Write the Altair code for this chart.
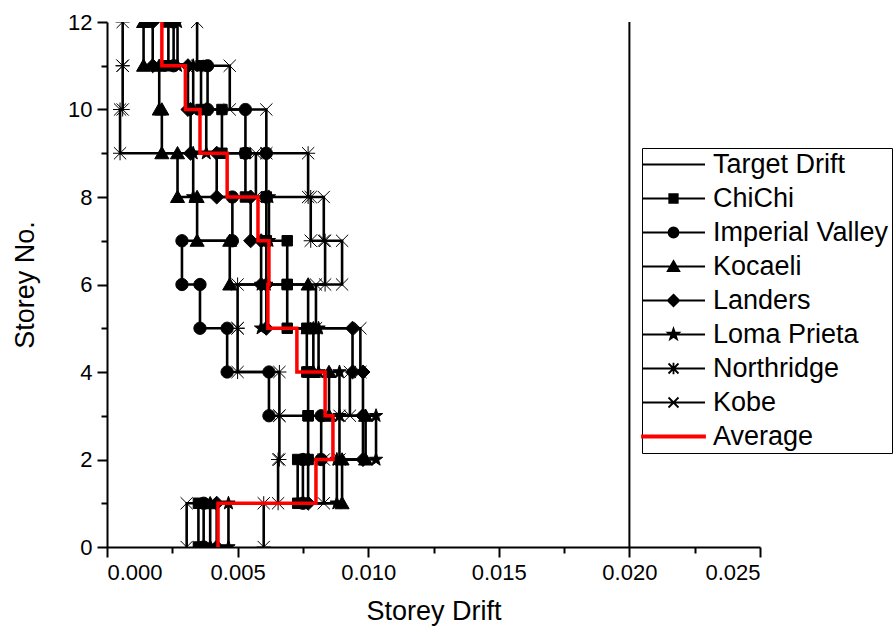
import altair as alt
import pandas as pd

# ---------------- data ----------------
storeys = list(range(1, 13))
series_names = ["ChiChi", "Imperial Valley", "Kocaeli", "Landers", "Loma Prieta", "Northridge", "Kobe"]

chichi = [0.0035, 0.0073, 0.0077, 0.0077, 0.00765, 0.0069, 0.0069, 0.0061, 0.0053, 0.0044, 0.0036, 0.00235]
imperial_valley = [0.0037, 0.0075, 0.0082, 0.0062, 0.0046, 0.00356, 0.00287, 0.0048, 0.0061, 0.0053, 0.00385, 0.00255]
kocaeli = [0.00395, 0.0090, 0.0099, 0.0085, 0.0079, 0.0077, 0.0047, 0.00345, 0.0027, 0.0021, 0.0020, 0.0014]
landers = [0.0042, 0.0077, 0.0098, 0.0098, 0.0094, 0.0061, 0.0059, 0.0055, 0.0042, 0.0032, 0.0031, 0.00175]
loma_prieta = [0.00465, 0.0088, 0.0103, 0.0089, 0.0081, 0.0059, 0.0061, 0.0062, 0.0033, 0.0038, 0.0033, 0.0027]
northridge = [0.0060, 0.00655, 0.0066, 0.0066, 0.0050, 0.0050, 0.00835, 0.0078, 0.0077, 0.0005, 0.0006, 0.0006]
kobe = [0.00305, 0.0083, 0.0089, 0.0093, 0.0097, 0.0080, 0.0090, 0.0083, 0.0057, 0.0061, 0.0047, 0.00345]
average = [0.00425, 0.0080, 0.00865, 0.00835, 0.00727, 0.00616, 0.0062, 0.00578, 0.0046, 0.00356, 0.0030, 0.0021]
target_drift = 0.02

x_major = [0.0, 0.005, 0.010, 0.015, 0.020, 0.025]
x_minor = [0.0025, 0.0075, 0.0125, 0.0175, 0.0225]
y_major = [0, 2, 4, 6, 8, 10, 12]
y_minor = [1, 3, 5, 7, 9, 11]

legend_names = ["Target Drift"] + series_names + ["Average"]
legend_colors = ["black"] * 8 + ["red"]
legend_keys = [f"L{i}" for i in range(len(legend_names))]

# ---------------- tables ----------------
def step_rows(name, vals):
    rows = []
    for i, (s, d) in enumerate(zip(storeys, vals)):
        rows.append({"series": name, "drift": d, "storey": s - 1, "order": 2 * i})
        rows.append({"series": name, "drift": d, "storey": s, "order": 2 * i + 1})
    return rows

all_vals = [chichi, imperial_valley, kocaeli, landers, loma_prieta, northridge, kobe]
rec_rows = []
for n, v in zip(series_names, all_vals):
    rec_rows += step_rows(n, v)
df_rec = pd.DataFrame(rec_rows)
df_avg = pd.DataFrame(step_rows("Average", average))
df_target = pd.DataFrame({"series": ["Target Drift"] * 2, "drift": [target_drift] * 2,
                          "storey": [0, 12], "order": [0, 1]})
df_legend = pd.DataFrame({"series": legend_keys})

# ---------------- marker shapes ----------------
SQUARE = "M-0.85,-0.85L0.85,-0.85L0.85,0.85L-0.85,0.85Z"
CIRCLE = "M1,0A1,1,0,1,1,-1,0A1,1,0,1,1,1,0Z"
TRIANGLE = "M0,-1.1L1.15,0.9L-1.15,0.9Z"
DIAMOND = "M0,-1.15L1.15,0L0,1.15L-1.15,0Z"
STAR = ("M0,-1.15L0.27,-0.37L1.09,-0.36L0.44,0.14L0.68,0.93L0,0.46L-0.68,0.93"
        "L-0.44,0.14L-1.09,-0.36L-0.27,-0.37Z")
ASTER = "M0,-1.15L0,1.15M-1,-1L1,1M-1,1L1,-1M-1.15,0L1.15,0"
XMARK = "M-1,-1L1,1M-1,1L1,-1"
marker_paths = [SQUARE, CIRCLE, TRIANGLE, DIAMOND, STAR, ASTER, XMARK]

LINE = "M-6.3,0L6.3,0"
THICK = "M-6.3,-0.2L6.3,-0.2L6.3,0.2L-6.3,0.2Z"
legend_paths = [LINE] + [LINE + p for p in marker_paths] + [THICK]

# one shared shape scale: plot markers + legend glyphs
shape_scale = alt.Scale(domain=series_names + legend_keys, range=marker_paths + legend_paths)
color_scale = alt.Scale(domain=series_names + legend_keys, range=["black"] * 7 + legend_colors)

label_expr = " : ".join(f"datum.label === '{k}' ? '{n}'" for k, n in zip(legend_keys, legend_names)) + " : datum.label"

# ---------------- scales & axes ----------------
x_scale = alt.Scale(domain=[0, 0.025], nice=False, zero=False)
y_scale = alt.Scale(domain=[0, 12], nice=False, zero=False)

x_axis = alt.Axis(values=x_major, format=".3f", orient="bottom", tickSize=10,
                  labelPadding=5, titleY=64, titleBaseline="middle")
y_axis = alt.Axis(values=y_major, format="d", orient="left", tickSize=10,
                  labelPadding=5, titleX=-82, titleY=262.5, titleBaseline="middle")
x_minor_axis = alt.Axis(values=x_minor, labels=False, orient="bottom", tickSize=6, domain=False)
y_minor_axis = alt.Axis(values=y_minor, labels=False, orient="left", tickSize=6, domain=False)

lines = alt.Chart(df_rec).mark_line(clip=True, color="black").encode(
    x=alt.X("drift:Q", scale=x_scale, axis=x_axis, title="Storey Drift"),
    y=alt.Y("storey:Q", scale=y_scale, axis=y_axis, title="Storey No."),
    detail="series:N",
    order="order:Q",
    strokeWidth=alt.StrokeWidth("series:N", scale=alt.Scale(domain=series_names,
                                range=[2.6, 2.6, 2.6, 2.6, 2.6, 1.5, 1.5]), legend=None),
)

leg = alt.Legend(
    title=None, orient="none", legendX=535, legendY=126, values=legend_keys,
    labelExpr=label_expr, labelLimit=400,
    labelFont="Liberation Sans", labelFontSize=27, labelColor="black",
    symbolSize=100, symbolOffset=15, labelOffset=26,
    rowPadding=6, padding=3, strokeColor="black",
    symbolOpacity=1, symbolStrokeWidth=1.8,
)

points = alt.Chart(df_rec).mark_point(clip=True, filled=True, color="black", stroke="black",
                                      strokeWidth=1, opacity=1, size=150).encode(
    x=alt.X("drift:Q", scale=x_scale, axis=x_minor_axis, title=""),
    y=alt.Y("storey:Q", scale=y_scale, axis=y_minor_axis, title=""),
    shape=alt.Shape("series:N", scale=shape_scale, legend=leg),
)

target = alt.Chart(df_target).mark_line(color="black", strokeWidth=2).encode(
    x=alt.X("drift:Q", scale=x_scale, axis=None),
    y=alt.Y("storey:Q", scale=y_scale, axis=None),
    order="order:Q",
)

avg = alt.Chart(df_avg).mark_line(clip=True, color="red", strokeWidth=3.5).encode(
    x=alt.X("drift:Q", scale=x_scale, axis=None),
    y=alt.Y("storey:Q", scale=y_scale, axis=None),
    order="order:Q",
)

legend_layer = alt.Chart(df_legend).mark_point(opacity=0, size=100, strokeWidth=1.8).encode(
    shape=alt.Shape("series:N", scale=shape_scale, legend=leg),
    fill=alt.Fill("series:N", scale=color_scale, legend=leg),
    stroke=alt.Stroke("series:N", scale=color_scale, legend=leg),
)

chart = alt.layer(lines, points, target, avg, legend_layer).resolve_scale(
    strokeWidth="independent"
).resolve_axis(x="independent", y="independent").properties(
    width=653, height=525,
    autosize=alt.AutoSizeParams(type="none"),
    padding={"left": 107, "top": 22, "right": 136, "bottom": 85},
).configure_view(stroke="transparent").configure_axis(
    domainColor="black", domainWidth=2, tickColor="black", tickWidth=2,
    labelFont="Liberation Sans", labelFontSize=22, labelColor="black",
    titleFont="Liberation Sans", titleFontSize=27, titleFontWeight="normal", titleColor="black",
    grid=False,
)

chart.save("out.html", embed_options={"renderer": "svg", "actions": False})
